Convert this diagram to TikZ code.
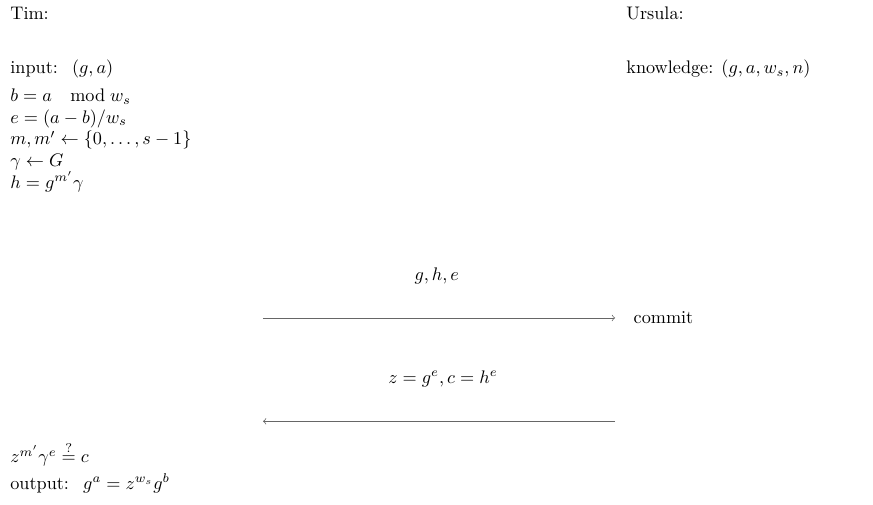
\documentclass[tikz,border=0pt]{standalone}
\usepackage{amsmath,amssymb}
\usepackage{tikz}
\usetikzlibrary{positioning,calc}

\begin{document}
\begin{tikzpicture}[x=1pt,y=1pt,
    line/.style={anchor=base west,inner sep=0pt},
    msg/.style={anchor=base,inner sep=0pt},
    arr/.style={line width=0.4pt,gray!80!black}]
  \useasboundingbox (0,0) rectangle (479.7,-277);

  % Parties
  \node[line] (tim) at (5.5,-10.5) {Tim:};
  \node[line] (ursula) at (344,-10.5) {Ursula:};

  % Tim's side
  \node[line] (input) at (5.5,-40.5) {input:~ $(g,a)$};
  \node[line] (know) at (344,-40.5) {knowledge: $(g,a,w_s,n)$};
  \node[line] (lb) at (5.5,-55.8) {$b = a \quad \mathrm{mod}\; w_s$};
  \node[line] (le) at (5.5,-67.6) {$e = (a-b)/w_s$};
  \node[line] (lm) at (5.5,-79.6) {$m, m' \leftarrow \{0,\ldots,s-1\}$};
  \node[line] (lgam) at (5.5,-91.6) {$\gamma \leftarrow G$};
  \node[line] (lh) at (5.5,-103.6) {$h = g^{m'}\gamma$};

  % Messages
  \coordinate (a1) at (144.5,-174.7);
  \node[anchor=west,inner sep=0pt] (commit) at (348,-174.7) {commit};
  \draw[arr,->] (a1) -- ($(commit.west)+(-10,0)$);
  \node[msg] (first) at (240,-154) {$g,h,e$};

  \coordinate (b1) at (144.5,-231.5);
  \coordinate (b2) at (338,-231.5);
  \draw[arr,->] (b2) -- (b1);
  \node[msg] (second) at (243.4,-210.5) {$z = g^e, c = h^e$};

  % Check and output
  \node[line] (check) at (5.5,-254.4) {$z^{m'}\gamma^e \stackrel{?}{=} c$};
  \node[line] (output) at (5.5,-269) {output:~ $g^a = z^{w_s} g^b$};
\end{tikzpicture}
\end{document}
